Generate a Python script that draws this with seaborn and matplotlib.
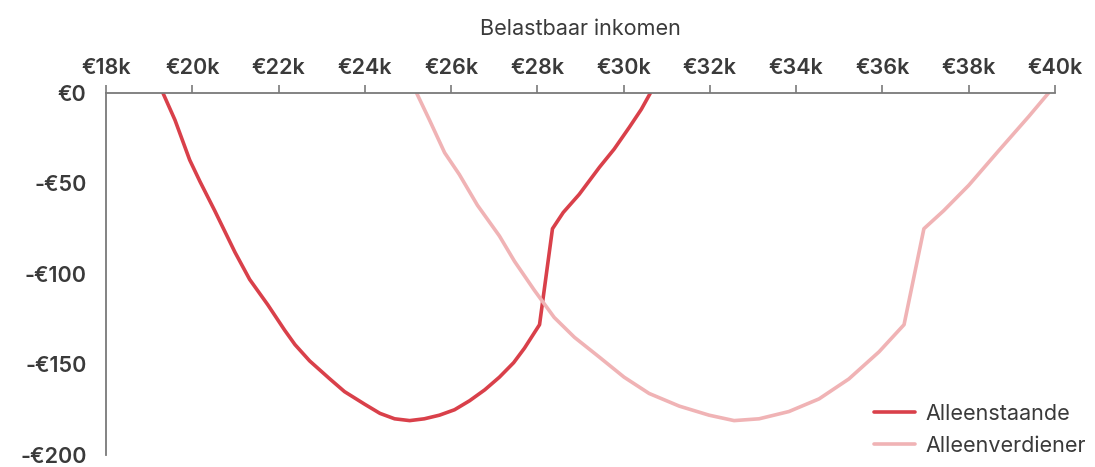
import matplotlib
matplotlib.use("Agg")
import matplotlib.pyplot as plt
import pandas as pd
import seaborn as sns

# Belastbaar inkomen (x 1000 euro) en verschil in euro, per huishouden
alleenstaande_x = [19.32, 19.60, 19.94, 20.18, 20.52, 20.99, 21.33, 21.75, 22.14, 22.38,
                   22.72, 23.19, 23.53, 24.00, 24.35, 24.69, 25.04, 25.38, 25.73, 26.08,
                   26.43, 26.78, 27.12, 27.45, 27.70, 28.05, 28.35, 28.60, 28.97, 29.44,
                   29.78, 30.13, 30.41, 30.62]
alleenstaande_y = [0, -15, -37, -49, -65, -88, -103, -117, -131, -139,
                   -148, -158, -165, -172, -177, -180, -181, -180, -178, -175,
                   -170, -164, -157, -149, -141, -128, -75, -66, -56, -41,
                   -31, -19, -9, 0]

alleenverdiener_x = [25.20, 25.50, 25.85, 26.19, 26.61, 27.12, 27.47, 27.93, 28.39, 28.86,
                     29.44, 30.01, 30.59, 31.29, 31.98, 32.56, 33.14, 33.83, 34.53, 35.22,
                     35.92, 36.50, 36.96, 37.42, 38.00, 38.69, 39.39, 39.85]
alleenverdiener_y = [0, -15, -33, -45, -62, -79, -93, -109, -124, -135,
                     -146, -157, -166, -173, -178, -181, -180, -176, -169, -158,
                     -143, -128, -75, -65, -51, -32, -13, 0]

x_ticks = [18, 20, 22, 24, 26, 28, 30, 32, 34, 36, 38, 40]
y_ticks = [0, -50, -100, -150, -200]

colors = {"Alleenstaande": "#D9404A", "Alleenverdiener": "#F0B3B5"}
text_color = "#3a3a3a"
axis_color = "#7a7a7a"

df = pd.concat([
    pd.DataFrame({"inkomen": alleenstaande_x, "verschil": alleenstaande_y,
                  "huishouden": "Alleenstaande"}),
    pd.DataFrame({"inkomen": alleenverdiener_x, "verschil": alleenverdiener_y,
                  "huishouden": "Alleenverdiener"}),
], ignore_index=True)

sns.set_style("white")
plt.rcParams["font.family"] = ["Inter", "DejaVu Sans"]

fig = plt.figure(figsize=(10.95, 4.67), dpi=100)
ax = fig.add_axes([0.0968, 0.0257, 0.8667, 0.7752])

sns.lineplot(data=df, x="inkomen", y="verschil", hue="huishouden", palette=colors,
             estimator=None, sort=False, linewidth=2.6, ax=ax)

ax.set_xlim(18, 40)
ax.set_ylim(-200, 0)
ax.set_xticks(x_ticks)
ax.set_xticklabels([f"€{v}k" for v in x_ticks])
ax.set_yticks(y_ticks)
ax.set_yticklabels(["€0" if v == 0 else f"-€{abs(v)}" for v in y_ticks])

ax.xaxis.tick_top()
ax.xaxis.set_label_position("top")
ax.set_xlabel("Belastbaar inkomen", fontsize=15.5, color=text_color, labelpad=16)
ax.set_ylabel("")

for side in ["right", "bottom"]:
    ax.spines[side].set_visible(False)
for side in ["top", "left"]:
    ax.spines[side].set_color(axis_color)
    ax.spines[side].set_linewidth(1.3)

ax.tick_params(axis="both", direction="out", length=6, width=1.2, color=axis_color,
               labelcolor=text_color, labelsize=15.5)
ax.tick_params(axis="x", pad=5)
ax.tick_params(axis="y", pad=8)
for lbl in ax.get_xticklabels() + ax.get_yticklabels():
    lbl.set_fontweight("semibold")

leg = ax.legend(loc="lower right", bbox_to_anchor=(1.053, -0.055), frameon=False,
                fontsize=15.5, handlelength=1.9, handletextpad=0.5, labelspacing=0.55)
for t in leg.get_texts():
    t.set_color(text_color)

fig.savefig("out.png", dpi=100)
